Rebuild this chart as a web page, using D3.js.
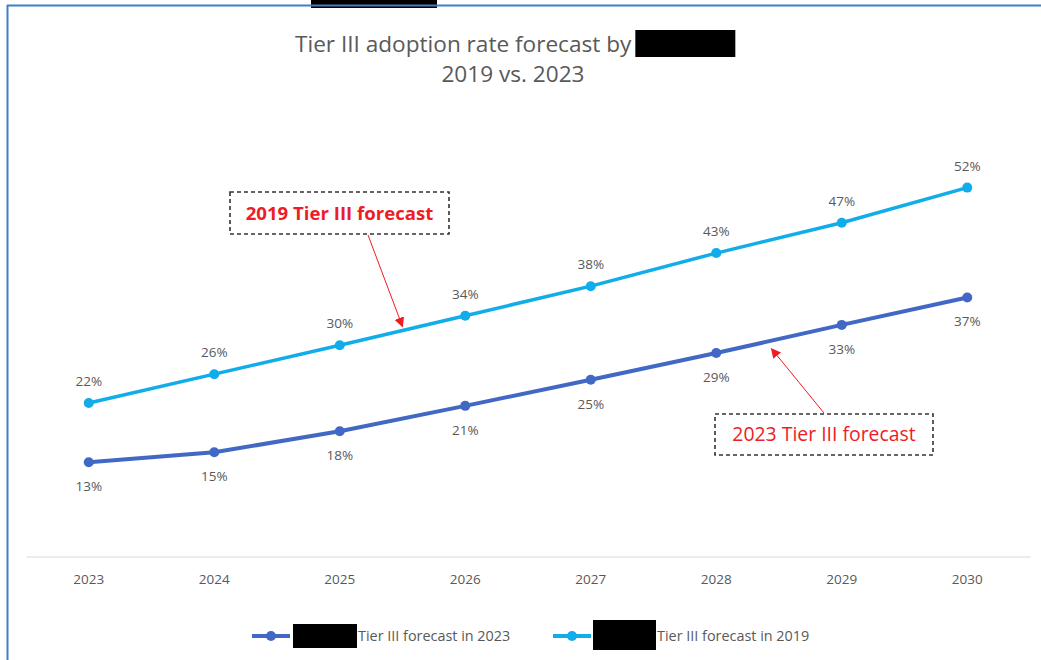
<!DOCTYPE html>
<html><head><meta charset="utf-8">
<script src="https://cdn.jsdelivr.net/npm/d3@7"></script>
<style>
body{margin:0;background:#fff}
svg{display:block}
text{font-family:"Open Sans","Liberation Sans",sans-serif}
</style>
</head><body>
<svg id="c" width="1041" height="660"></svg>
<script>
// ---- data ----
const years = ["2023","2024","2025","2026","2027","2028","2029","2030"];
const forecast2019 = [0.218, 0.259, 0.300, 0.342, 0.384, 0.431, 0.474, 0.524];
const forecast2023 = [0.134, 0.148, 0.178, 0.214, 0.251, 0.289, 0.329, 0.368];
const seriesNames = ["Tier III forecast in 2023", "Tier III forecast in 2019"];
const titleLine1 = "Tier III adoption rate forecast by";
const titleLine2 = "2019 vs. 2023";
const note2019 = "2019 Tier III forecast";
const note2023 = "2023 Tier III forecast";

const c2019 = "#11ACEA", c2023 = "#4068C4", grey = "#595959", red = "#EE1C25";

const svg = d3.select("#c");
const W = 1041, H = 660;

// frame + redaction at top edge
svg.append("rect").attr("x", 311).attr("y", 0).attr("width", 126).attr("height", 8).attr("fill", "#000");
svg.append("line").attr("x1", 7).attr("x2", W).attr("y1", 5.5).attr("y2", 5.5)
  .attr("stroke", "#3F7FC8").attr("stroke-width", 2);
svg.append("line").attr("x1", 7.5).attr("x2", 7.5).attr("y1", 5).attr("y2", H)
  .attr("stroke", "#3F7FC8").attr("stroke-width", 2);

// scales
const x = d3.scaleBand().domain(years).range([26, 1030]);
const cx = d => x(d) + x.bandwidth() / 2;
const y = d3.scaleLinear().domain([0, 0.6]).range([556.5, 134.1]);
const pct = d3.format(".0%");

// title
const t1 = svg.append("text").attr("x", 295).attr("y", 52).attr("font-size", 22.6).attr("fill", grey).text(titleLine1);
const tw = t1.node().getComputedTextLength();
svg.append("rect").attr("x", 295 + tw + 4).attr("y", 30).attr("width", 100).attr("height", 27).attr("fill", "#000");
svg.append("text").attr("x", 513).attr("y", 82).attr("text-anchor", "middle").attr("font-size", 22.6)
  .attr("fill", grey).text(titleLine2);

// x axis
const ax = svg.append("g").attr("transform", `translate(0,${y(0)})`)
  .call(d3.axisBottom(x).tickSize(0).tickPadding(18));
ax.select(".domain").attr("stroke", "#D9D9D9").attr("stroke-width", 1.2);
ax.selectAll("text").attr("font-size", 13.5).attr("fill", grey)
  .style("font-family", '"Open Sans",sans-serif');

// lines
const line = d3.line().x((d, i) => cx(years[i])).y(d => y(d));
const series = [
  {vals: forecast2023, color: c2023, w: 4, labelDy: 29},
  {vals: forecast2019, color: c2019, w: 3.5, labelDy: -17}
];
series.forEach(s => {
  svg.append("path").datum(s.vals).attr("d", line).attr("fill", "none")
    .attr("stroke", s.color).attr("stroke-width", s.w).attr("stroke-linejoin", "round");
  svg.append("g").selectAll("circle").data(s.vals).join("circle")
    .attr("cx", (d, i) => cx(years[i])).attr("cy", d => y(d)).attr("r", 5).attr("fill", s.color);
  svg.append("g").selectAll("text").data(s.vals).join("text")
    .attr("x", (d, i) => cx(years[i])).attr("y", d => y(d) + s.labelDy)
    .attr("text-anchor", "middle").attr("font-size", 13.5).attr("fill", grey).text(d => pct(d));
});

// annotations
const defs = svg.append("defs");
defs.append("marker").attr("id", "ah").attr("viewBox", "0 0 10 10").attr("refX", 9).attr("refY", 5)
  .attr("markerWidth", 10).attr("markerHeight", 10).attr("markerUnits", "userSpaceOnUse").attr("orient", "auto")
  .append("path").attr("d", "M0,0 L10,5 L0,10 z").attr("fill", red);

function note(text, bx, by, bw, bh, weight, size, from, to) {
  svg.append("rect").attr("x", bx).attr("y", by).attr("width", bw).attr("height", bh)
    .attr("fill", "#fff").attr("stroke", "#333").attr("stroke-width", 1.6).attr("stroke-dasharray", "4,3");
  svg.append("text").attr("x", bx + bw / 2).attr("y", by + bh / 2 + 6.5).attr("text-anchor", "middle")
    .attr("font-size", size).attr("font-weight", weight).attr("fill", red).text(text);
  svg.append("line").attr("x1", from[0]).attr("y1", from[1]).attr("x2", to[0]).attr("y2", to[1])
    .attr("stroke", red).attr("stroke-width", 1).attr("marker-end", "url(#ah)");
}
// arrow tips point at the lines between data points
const mid2019 = [(cx("2025") + cx("2026")) / 2, (y(forecast2019[2]) + y(forecast2019[3])) / 2];
const seg2023 = 0.44;
const tip2023 = [cx("2028") + seg2023 * (cx("2029") - cx("2028")),
  y(forecast2023[5] + seg2023 * (forecast2023[6] - forecast2023[5]))];
note(note2019, 230, 192, 219, 42, "bold", 18.6, [368, 235], [mid2019[0], mid2019[1] - 4]);
note(note2023, 715, 414, 218, 41, "normal", 19.4, [824, 413], [tip2023[0], tip2023[1] + 8]);

// legend
const leg = [
  {name: seriesNames[0], color: c2023, x: 252, box: [293, 624, 64, 24]},
  {name: seriesNames[1], color: c2019, x: 553, box: [593, 620, 63, 30]}
];
leg.forEach(l => {
  svg.append("line").attr("x1", l.x).attr("x2", l.x + 38).attr("y1", 636).attr("y2", 636)
    .attr("stroke", l.color).attr("stroke-width", 4);
  svg.append("circle").attr("cx", l.x + 19).attr("cy", 636).attr("r", 5).attr("fill", l.color);
  svg.append("rect").attr("x", l.box[0]).attr("y", l.box[1]).attr("width", l.box[2]).attr("height", l.box[3]).attr("fill", "#000");
  svg.append("text").attr("x", l.box[0] + l.box[2] + 1).attr("y", 641).attr("font-size", 14.4)
    .attr("fill", grey).text(l.name);
});
</script>
</body></html>
